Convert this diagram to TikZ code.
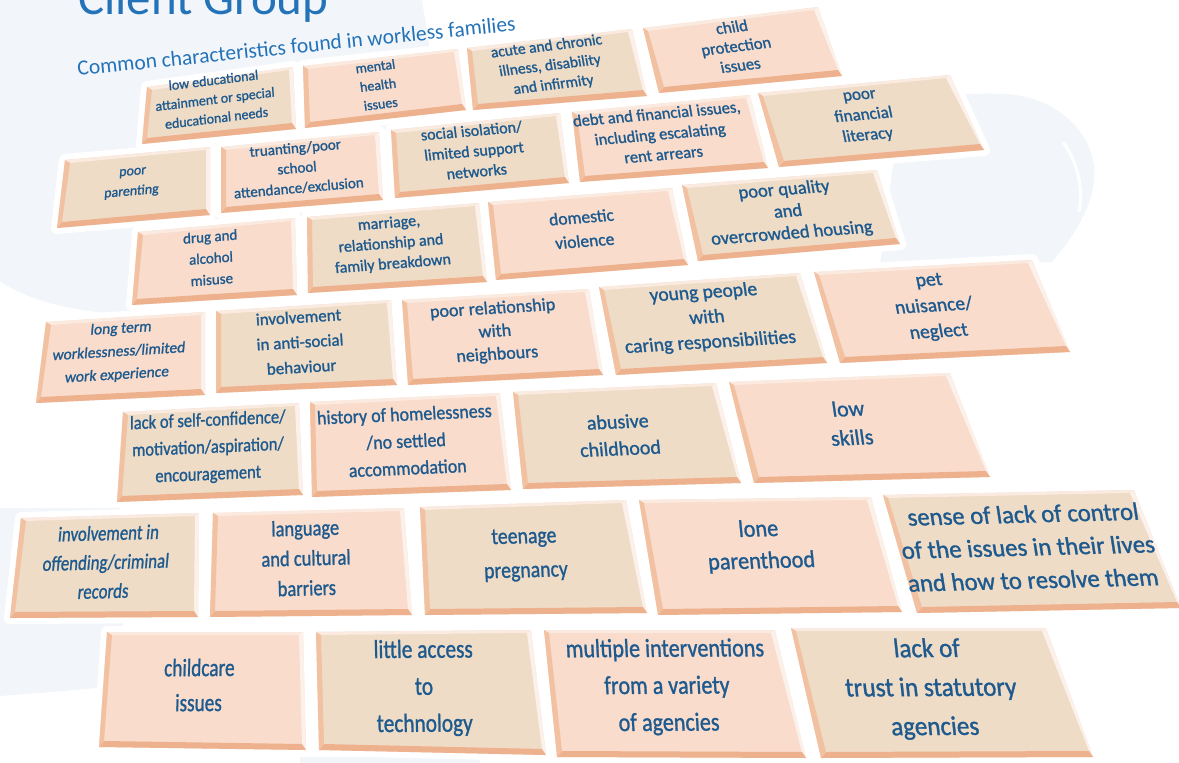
\documentclass[tikz,border=0pt]{standalone}
\usepackage{fontspec}
\setmainfont{Carlito}
\newfontfamily\brickfont{Carlito}[FakeBold=1.2]
\usetikzlibrary{calc}

\definecolor{facepink}{HTML}{F9DCCB}
\definecolor{facetan}{HTML}{EEDCC7}
\definecolor{bevellight}{HTML}{FBEAE0}
\definecolor{bevelright}{HTML}{FCF1EA}
\definecolor{beveldark}{HTML}{EEB18E}
\definecolor{bevelside}{HTML}{F2C1A2}
\definecolor{inkblue}{HTML}{1E5A8E}
\definecolor{titleblue}{HTML}{2473B8}
\definecolor{hazeblue}{HTML}{F2F6FB}

\pgfdeclarelayer{haze}
\pgfdeclarelayer{halo}
\pgfsetlayers{haze,halo,main}

\tikzset{
  pinkface/.style={fill=facepink},
  tanface/.style={fill=facetan},
  halo/.style={fill=white, draw=white, line width=12pt, line join=round},
  bevel top/.style={fill=bevellight},
  bevel right/.style={fill=bevelright},
  bevel bottom/.style={fill=beveldark},
  bevel left/.style={fill=bevelside},
  fs/.style 2 args={font=\brickfont\fontsize{#1}{#2}\selectfont},
  brick text/.style={text=inkblue, align=center, inner sep=0pt},
  title text/.style={text=titleblue, inner sep=0pt},
  rowA/.style={brick text, rotate=7},
  rowB/.style={brick text, rotate=5},
  rowC/.style={brick text, rotate=4.5},
  rowD/.style={brick text, rotate=3.5},
  rowE/.style={brick text, rotate=2.5},
  rowF/.style={brick text, rotate=1.5},
  rowG/.style={brick text, rotate=0.3}
}

% #1 name, #2 face, #3-#6 corners (tl, tr, br, bl), #7 text centre, #8 text options, #9 text
\newcommand{\brick}[9]{%
  \coordinate (#1 tl) at (#3);
  \coordinate (#1 tr) at (#4);
  \coordinate (#1 br) at (#5);
  \coordinate (#1 bl) at (#6);
  \coordinate (#1 itl) at ($(#1 tl)+(5,3)$);
  \coordinate (#1 itr) at ($(#1 tr)+(-4,3)$);
  \coordinate (#1 ibr) at ($(#1 br)+(-4,-6)$);
  \coordinate (#1 ibl) at ($(#1 bl)+(5,-6)$);
  \begin{pgfonlayer}{halo}
    \path[halo] (#1 tl) -- (#1 tr) -- (#1 br) -- (#1 bl) -- cycle;
  \end{pgfonlayer}
  \fill[#2] (#1 tl) -- (#1 tr) -- (#1 br) -- (#1 bl) -- cycle;
  \fill[bevel top] (#1 tl) -- (#1 tr) -- (#1 itr) -- (#1 itl) -- cycle;
  \fill[bevel right] (#1 tr) -- (#1 br) -- (#1 ibr) -- (#1 itr) -- cycle;
  \fill[bevel bottom] (#1 br) -- (#1 bl) -- (#1 ibl) -- (#1 ibr) -- cycle;
  \fill[bevel left] (#1 bl) -- (#1 tl) -- (#1 itl) -- (#1 ibl) -- cycle;
  \node[at={(#7)}, #8] (#1) {#9};
}

\begin{document}
\begin{tikzpicture}[x=1pt, y=-1pt]
\useasboundingbox (0,0) rectangle (1179,763);

% faint silhouettes behind the wall
\begin{pgfonlayer}{haze}
  \fill[hazeblue] (0,0) -- (422,0) .. controls (428,40) and (440,80) .. (420,140)
    .. controls (380,250) and (220,318) .. (125,314)
    .. controls (70,312) and (30,300) .. (0,282) -- cycle;
  \fill[hazeblue] (0,508) -- (120,508) -- (125,685)
    .. controls (80,690) and (30,694) .. (0,696) -- cycle;
  \fill[hazeblue] (900,110) .. controls (930,95) and (975,92) .. (1005,94)
    .. controls (1050,96) and (1088,125) .. (1094,165)
    .. controls (1098,200) and (1075,235) .. (1052,262) -- (880,265) -- cycle;
  \draw[white, line width=3pt] (1063,142) .. controls (1076,160) and (1084,185) .. (1079,212);
  \fill[hazeblue] (300,757) rectangle (480,763);
\end{pgfonlayer}

% headings
\node[title text, font=\fontsize{49}{51}\selectfont, anchor=base west] (title) at (78,14) {Client Group};
\node[title text, font=\fontsize{21.5}{24}\selectfont, anchor=base west, rotate=5.9] (subtitle) at (78,76)
  {Common characteristics found in workless families};

% row 1
\brick{lowedu}{tanface}{147,87}{293,67}{296,129}{142,144}{215,99}{rowA, fs={14}{19}, xslant=0.04}{low educational\\attainment or special\\educational needs}
\brick{mental}{pinkface}{303,66}{458,49}{466,110}{305,128}{378,85}{rowA, fs={14}{19}, xslant=-0.02}{mental\\health\\issues}
\brick{illness}{tanface}{467,48}{632,29}{647,96}{473,110}{550,66}{rowA, fs={15.5}{19.5}, xslant=-0.06}{acute and chronic\\illness, disability\\and infirmity}
\brick{childprot}{pinkface}{643,28}{818,7}{842,76}{659,93}{736,46}{rowA, fs={16.5}{19.5}, xslant=-0.1}{child\\protection\\issues}

% row 2
\brick{parenting}{tanface}{65,160}{210,147}{210,215}{57,228}{132,183}{rowB, fs={14}{20}, xslant=0.15}{poor\\parenting}
\brick{truanting}{pinkface}{221,147}{379,132}{383,200}{221,213}{297,168}{rowB, fs={15}{20}}{truanting/poor\\school\\attendance/exclusion}
\brick{isolation}{tanface}{391,130}{560,113}{569,183}{395,198}{474,151}{rowB, fs={16}{20.5}, xslant=-0.04}{social isolation/\\limited support\\networks}
\brick{debt}{pinkface}{572,112}{750,95}{768,168}{580,182}{660,134}{rowB, fs={16.5}{20.5}, xslant=-0.08}{debt and financial issues,\\including escalating\\rent arrears}
\brick{literacy}{tanface}{758,93}{950,75}{984,150}{779,167}{864,117}{rowB, fs={17}{20.5}, xslant=-0.12}{poor\\financial\\literacy}

% row 3
\brick{drugs}{pinkface}{138,232}{295,218}{297,295}{132,305}{211,258}{rowC, fs={15}{21.5}, xslant=0.04}{drug and\\alcohol\\misuse}
\brick{breakdown}{tanface}{307,217}{479,203}{487,282}{308,293}{391,244}{rowC, fs={16}{20.5}, xslant=-0.02}{marriage,\\relationship and\\family breakdown}
\brick{violence}{pinkface}{488,202}{672,188}{688,265}{496,280}{583,229}{rowC, fs={17.5}{24}, xslant=-0.06}{domestic\\violence}
\brick{housing}{tanface}{682,185}{877,170}{900,244}{698,261}{788,212}{rowC, fs={18.5}{22}, xslant=-0.1}{poor quality\\and\\overcrowded housing}

% row 4
\brick{worklessness}{pinkface}{46,322}{205,312}{205,395}{36,403}{119,352}{rowD, fs={15.5}{23}, xslant=0.15}{long term\\worklessness/limited\\work experience}
\brick{antisocial}{tanface}{216,311}{391,300}{397,385}{216,393}{300,342}{rowD, fs={17}{25}}{involvement\\in anti-social\\behaviour}
\brick{neighbours}{pinkface}{402,300}{589,289}{603,375}{408,385}{495,332}{rowD, fs={18}{23}, xslant=-0.04}{poor relationship\\with\\neighbours}
\brick{carers}{tanface}{599,287}{800,273}{827,363}{616,375}{707,318}{rowD, fs={19.5}{25}, xslant=-0.08}{young people\\with\\caring responsibilities}
\brick{pets}{pinkface}{814,272}{1032,260}{1070,352}{840,363}{934,307}{rowD, fs={19.5}{26}, xslant=-0.13}{pet\\nuisance/\\neglect}

% row 5
\brick{confidence}{tanface}{123,412}{299,403}{303,495}{117,502}{208,448}{rowE, fs={19}{27}, xscale=0.87, xslant=0.04}{lack of self-confidence/\\motivation/aspiration/\\encouragement}
\brick{homelessness}{pinkface}{310,402}{500,393}{511,490}{312,497}{406,441}{rowE, fs={19.5}{27}, xscale=0.92, xslant=-0.02}{history of homelessness\\/no settled\\accommodation}
\brick{abuse}{tanface}{513,392}{716,383}{741,483}{523,489}{619,435}{rowE, fs={20}{27}, xslant=-0.06}{abusive\\childhood}
\brick{skills}{pinkface}{729,382}{950,373}{990,477}{754,483}{850,423}{rowE, fs={22}{29}, xslant=-0.1}{low\\skills}

% row 6
\brick{offending}{tanface}{21,518}{199,513}{198,617}{10,618}{106,562}{rowF, fs={21}{29}, xscale=0.8, xslant=0.15}{involvement in\\offending/criminal\\records}
\brick{language}{pinkface}{213,513}{404,508}{412,615}{210,617}{306,558}{rowF, fs={22}{30}, xscale=0.84}{language\\and cultural\\barriers}
\brick{teenage}{tanface}{420,507}{626,500}{647,613}{425,615}{525,555}{rowF, fs={23}{34}, xscale=0.86, xslant=-0.04}{teenage\\pregnancy}
\brick{loneparent}{pinkface}{639,500}{871,497}{902,612}{658,615}{760,546}{rowF, fs={24}{32}, xscale=0.93, xslant=-0.08}{lone\\parenthood}
\brick{control}{tanface}{883,495}{1134,490}{1181,608}{917,613}{1028,547}{rowF, fs={25}{33}, xscale=0.99, xslant=-0.13}{sense of lack of control\\of the issues in their lives\\and how to resolve them}

% row 7
\brick{childcare}{pinkface}{107,632}{303,632}{306,750}{99,747}{199,685}{rowG, fs={25}{35}, xscale=0.77, xslant=0.04}{childcare\\issues}
\brick{technology}{tanface}{316,632}{531,630}{546,755}{319,750}{424,688}{rowG, fs={26}{37}, xscale=0.82, xslant=-0.02}{little access\\to\\technology}
\brick{agencies}{pinkface}{544,630}{775,630}{806,758}{557,757}{667,687}{rowG, fs={26}{37}, xscale=0.85, xslant=-0.06}{multiple interventions\\from a variety\\of agencies}
\brick{trust}{tanface}{791,628}{1046,628}{1093,757}{821,758}{931,689}{rowG, fs={27}{39}, xscale=0.93, xslant=-0.11}{lack of\\trust in statutory\\agencies}

\end{tikzpicture}
\end{document}
